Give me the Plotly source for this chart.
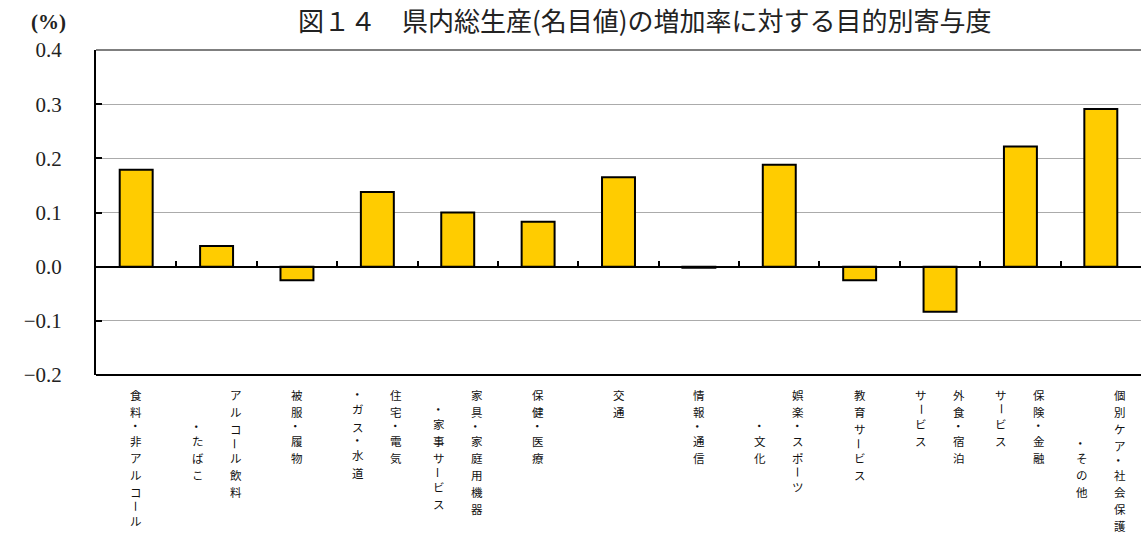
import plotly.graph_objects as go

# ---- data ----
categories = [
    "食料・非アルコール", "アルコール飲料・たばこ", "被服・履物", "住宅・電気・ガス・水道",
    "家具・家庭用機器・家事サービス", "保健・医療", "交通", "情報・通信",
    "娯楽・スポーツ・文化", "教育サービス", "外食・宿泊サービス", "保険・金融サービス",
    "個別ケア・社会保護・その他",
]
values = [0.179, 0.038, -0.025, 0.138, 0.100, 0.083, 0.165, -0.002,
          0.188, -0.025, -0.083, 0.222, 0.291]
# vertical label columns (right column first, as in Japanese vertical writing);
# leading full-width spaces give the indent of a continuation column
label_columns = [
    ["食料・非アルコール"],
    ["アルコール飲料", "　　・たばこ"],
    ["被服・履物"],
    ["住宅・電気", "・ガス・水道"],
    ["家具・家庭用機器", "　・家事サービス"],
    ["保健・医療"],
    ["交通"],
    ["情報・通信"],
    ["娯楽・スポーツ", "　　・文化"],
    ["教育サービス"],
    ["外食・宿泊", "サービス"],
    ["保険・金融", "サービス"],
    ["個別ケア・社会保護", "　　　・その他"],
]
y_ticks = [-0.2, -0.1, 0.0, 0.1, 0.2, 0.3, 0.4]
title_text = "図１４　県内総生産(名目値)の増加率に対する目的別寄与度"
unit_text = "(%)"

fig = go.Figure()
fig.add_trace(go.Bar(
    x=categories, y=values, width=0.41,
    marker=dict(color="#FFCC00", line=dict(color="#000000", width=2)),
    showlegend=False, hoverinfo="skip",
))

ymin, ymax = y_ticks[0], y_ticks[-1]
zero_pos = (0 - ymin) / (ymax - ymin)

# vertical category labels: one character per text, stacked downward;
# "・" and "ー" are turned upright as in vertical typesetting
FS = 11.5
BOX = 1.448 * FS          # text box height of a CJK glyph
GAP = 0.4
FIRST = 20                # px below plot bottom to centre of first character
ROT = {"・", "ー"}
label_font = dict(family="Noto Sans CJK JP", size=FS, color="#111111")
annotations = []


def half_extent(ch):
    return FS / 2 if ch in ROT else BOX / 2


for cat, cols in zip(categories, label_columns):
    ncol = len(cols)
    for ci, col in enumerate(cols):
        xshift = 0 if ncol == 1 else (19 if ci == 0 else -19)
        pos = FIRST
        prev = None
        for ch in col:
            if prev is not None:
                pos += half_extent(prev) + half_extent(ch) + GAP
            if ch != "　":
                annotations.append(dict(
                    x=cat, xref="x", y=0, yref="paper",
                    text=ch, showarrow=False, font=label_font,
                    xanchor="center", yanchor="middle", borderpad=0,
                    xshift=xshift, yshift=-pos,
                    textangle=90 if ch in ROT else 0,
                ))
            prev = ch

annotations.append(dict(
    x=0, xref="paper", y=1, yref="paper", text=unit_text, showarrow=False,
    font=dict(family="Liberation Serif", size=21, color="#222222", weight="bold"),
    xanchor="center", yanchor="middle", xshift=-48, yshift=28,
))

fig.update_layout(
    width=1141, height=538,
    margin=dict(l=96, r=0, t=50, b=163),
    paper_bgcolor="white", plot_bgcolor="white",
    title=dict(text=title_text, x=0.565, xanchor="center", y=0.959, yanchor="middle",
               font=dict(family="Noto Sans CJK JP", size=26, color="#222222")),
    annotations=annotations,
    shapes=[
        dict(type="line", xref="paper", yref="paper", x0=0, x1=1, y0=0, y1=0,
             line=dict(color="#000000", width=2)),
        dict(type="line", xref="paper", yref="paper", x0=0, x1=1, y0=1, y1=1,
             line=dict(color="#555555", width=1.5)),
    ],
    xaxis=dict(
        type="category", range=[-0.5, len(categories) - 0.5],
        anchor="free", position=zero_pos,
        showline=True, linecolor="#000000", linewidth=2,
        ticks="inside", tickson="boundaries", ticklen=5, tickwidth=2, tickcolor="#000000",
        showticklabels=False, showgrid=False, zeroline=False,
    ),
    yaxis=dict(
        range=[ymin, ymax], tickvals=y_ticks, tickformat=".1f",
        showline=True, linecolor="#000000", linewidth=2,
        ticks="inside", ticklen=6, tickwidth=1.5, tickcolor="#000000",
        showgrid=True, gridcolor="#ababab", gridwidth=1, zeroline=False,
        tickfont=dict(family="Liberation Serif", size=21, color="#222222"),
        ticklabelstandoff=28,
    ),
)

fig.write_html("out.html", config={"displayModeBar": False},
               post_script="document.body.style.margin='0';")
